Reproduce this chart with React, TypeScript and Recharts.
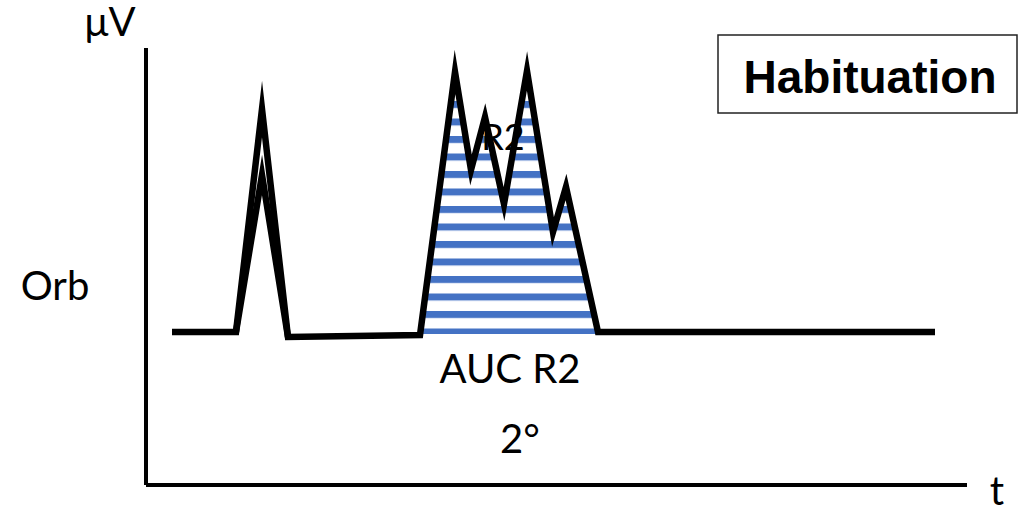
import React from "react";
import { ComposedChart, Line, Area, XAxis, YAxis } from "recharts";

// time (arbitrary units) and amplitude (µV, arbitrary units) of the schematic trace
const traceTime = [26, 90, 116, 142, 274, 309, 325, 339, 358, 381, 407, 420, 452, 789];
const traceAmp = [153, 153, 376, 148, 150, 413, 315, 368, 281, 414, 253, 298, 153, 153];

// second (smaller) primary response overlapping the first spike
const spikeTime = [90, 116, 142];
const spikeAmp = [153, 310, 148];

// R2 response (area under the curve)
const r2Time = [274, 309, 325, 339, 358, 381, 407, 420, 452];
const r2Amp = [150, 413, 315, 368, 281, 414, 253, 298, 153];
const baseline = 151;

const trace = traceTime.map((t, i) => ({ t, v: traceAmp[i] }));
const spike = spikeTime.map((t, i) => ({ t, v: spikeAmp[i] }));
const r2 = r2Time.map((t, i) => ({ t, v: r2Amp[i] }));

const FONT = "Lato, 'Open Sans', sans-serif";

export default function App() {
  return (
    <div style={{ position: "absolute", left: 0, top: 0, width: 1019, height: 511, background: "#fff" }}>
      <ComposedChart
        width={1019}
        height={511}
        data={trace}
        margin={{ top: 48, right: 52, bottom: 25, left: 145 }}
      >
        <defs>
          <pattern id="stripes" patternUnits="userSpaceOnUse" x="0" y="13.5" width="20" height="17.5">
            <rect x="0" y="0" width="20" height="7" fill="#4472C4" />
          </pattern>
        </defs>
        <XAxis
          type="number"
          dataKey="t"
          domain={[0, 821]}
          tick={false}
          tickLine={false}
          height={1}
          axisLine={{ stroke: "#000", strokeWidth: 4 }}
        />
        <YAxis
          type="number"
          domain={[0, 437]}
          tick={false}
          tickLine={false}
          width={1}
          axisLine={{ stroke: "#000", strokeWidth: 4 }}
        />
        <Area
          data={r2}
          dataKey="v"
          type="linear"
          baseValue={baseline}
          stroke="none"
          fill="url(#stripes)"
          fillOpacity={1}
          isAnimationActive={false}
        />
        <Line
          data={spike}
          dataKey="v"
          type="linear"
          stroke="#000"
          strokeWidth={6.5}
          strokeLinejoin="miter"
          strokeMiterlimit={30}
          dot={false}
          isAnimationActive={false}
        />
        <Line
          data={trace}
          dataKey="v"
          type="linear"
          stroke="#000"
          strokeWidth={6.5}
          strokeLinejoin="miter"
          strokeMiterlimit={30}
          dot={false}
          isAnimationActive={false}
        />
      </ComposedChart>
      <svg
        width={1019}
        height={511}
        style={{ position: "absolute", left: 0, top: 0, pointerEvents: "none" }}
      >
        <g fontFamily={FONT} fill="#000" textAnchor="middle">
          <text x={110} y={36} fontSize={40}>μV</text>
          <text x={55} y={300} fontSize={40}>Orb</text>
          <text x={503} y={150} fontSize={36}>R2</text>
          <text x={510} y={383} fontSize={40}>AUC R2</text>
          <text x={520} y={453} fontSize={40}>2°</text>
          <text x={997} y={505} fontSize={40}>t</text>
        </g>
        <rect x={718} y={35} width={299} height={78} fill="#fff" stroke="#222" strokeWidth={1.5} />
        <text
          x={870}
          y={93}
          fontSize={46}
          fontWeight="bold"
          fontFamily="'Liberation Sans', Arial, sans-serif"
          textAnchor="middle"
          fill="#000"
        >
          Habituation
        </text>
      </svg>
    </div>
  );
}
